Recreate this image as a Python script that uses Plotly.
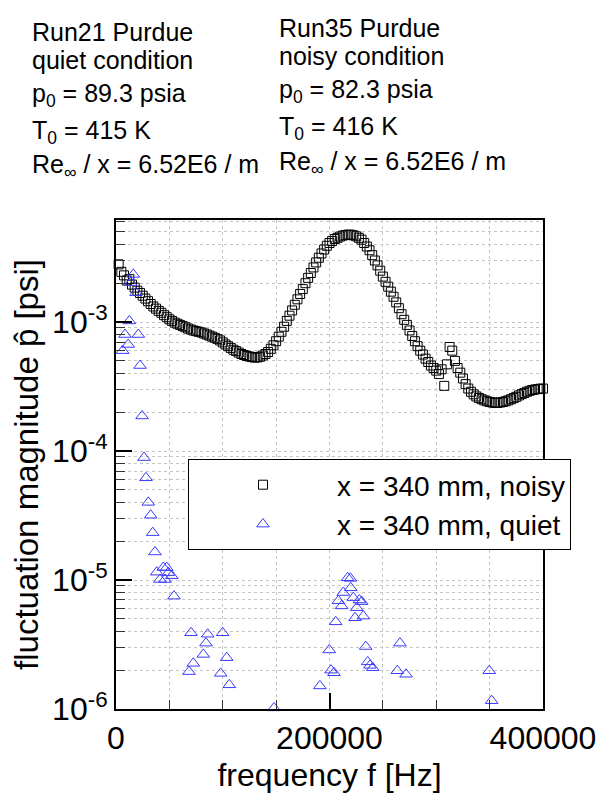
import plotly.graph_objects as go

# ---------------- data ----------------
# noisy run (Run35): uniform FFT bins of 2500 Hz
noisy_freq = [2500 * k for k in range(1, 161)]
noisy_amp = [
    2.8e-3, 2.45e-3, 2.3e-3, 2.1e-3, 2.15e-3, 1.95e-3, 1.85e-3, 1.75e-3, 1.68e-3, 1.6e-3,
    1.52e-3, 1.45e-3, 1.38e-3, 1.32e-3, 1.27e-3, 1.22e-3, 1.18e-3, 1.13e-3, 1.09e-3, 1.05e-3,
    1.02e-3, 9.9e-4, 9.7e-4, 9.5e-4, 9.3e-4, 9.1e-4, 8.9e-4, 8.75e-4, 8.6e-4, 8.5e-4,
    8.4e-4, 8.3e-4, 8.15e-4, 8.0e-4, 7.85e-4, 7.7e-4, 7.55e-4, 7.4e-4, 7.2e-4, 6.95e-4,
    6.7e-4, 6.5e-4, 6.3e-4, 6.1e-4, 5.95e-4, 5.8e-4, 5.65e-4, 5.55e-4, 5.45e-4, 5.4e-4,
    5.35e-4, 5.3e-4, 5.32e-4, 5.38e-4, 5.5e-4, 5.65e-4, 5.85e-4, 6.2e-4, 6.6e-4, 7.1e-4,
    7.7e-4, 8.4e-4, 9.2e-4, 1.02e-3, 1.12e-3, 1.23e-3, 1.36e-3, 1.5e-3, 1.65e-3, 1.8e-3,
    2.0e-3, 2.2e-3, 2.4e-3, 2.65e-3, 2.9e-3, 3.15e-3, 3.4e-3, 3.65e-3, 3.9e-3, 4.1e-3,
    4.25e-3, 4.4e-3, 4.5e-3, 4.6e-3, 4.68e-3, 4.73e-3, 4.76e-3, 4.75e-3, 4.7e-3, 4.62e-3,
    4.5e-3, 4.35e-3, 4.1e-3, 3.85e-3, 3.6e-3, 3.3e-3, 3.0e-3, 2.75e-3, 2.5e-3, 2.25e-3,
    2.05e-3, 1.88e-3, 1.72e-3, 1.57e-3, 1.42e-3, 1.28e-3, 1.15e-3, 1.04e-3, 9.5e-4, 8.6e-4,
    7.8e-4, 7.1e-4, 6.5e-4, 6.0e-4, 5.6e-4, 5.2e-4, 4.9e-4, 4.6e-4, 4.4e-4, 4.2e-4,
    3.95e-4, 4.3e-4, 3.2e-4, 4.7e-4, 6.4e-4, 6.0e-4, 5.0e-4, 4.4e-4, 4.05e-4, 3.65e-4,
    3.3e-4, 3.05e-4, 2.88e-4, 2.75e-4, 2.65e-4, 2.58e-4, 2.52e-4, 2.47e-4, 2.43e-4, 2.4e-4,
    2.38e-4, 2.36e-4, 2.36e-4, 2.38e-4, 2.4e-4, 2.43e-4, 2.47e-4, 2.52e-4, 2.57e-4, 2.63e-4,
    2.7e-4, 2.76e-4, 2.82e-4, 2.88e-4, 2.93e-4, 2.97e-4, 3.0e-4, 3.02e-4, 3.04e-4, 3.05e-4,
]

# quiet run (Run21): sparse peaks
quiet_freq = [
    6200, 8400, 11500, 12500, 13800, 16200, 18700, 20900, 22500, 24400,
    26200, 28100, 30300, 32500, 34400, 36500, 38100, 41200, 44300, 45900,
    47500, 49000, 52200, 54300, 68400, 70300, 72400, 81800, 84300, 85900,
    98100, 99900, 103700, 106100, 148000, 191000, 199800, 201400, 204200, 205800,
    208300, 211400, 212900, 217000, 219600, 219900, 222300, 223900, 225500, 228000,
    230200, 231700, 233900, 235800, 237900, 240500, 263500, 266000, 271700, 349700,
    351900,
]
quiet_amp = [
    6.0e-4, 8.0e-4, 6.7e-4, 1.02e-3, 2.02e-3, 2.34e-3, 1.69e-3, 8.0e-4, 4.6e-4, 1.87e-4,
    8.9e-5, 6.2e-5, 4.0e-5, 3.18e-5, 2.33e-5, 1.65e-5, 1.15e-5, 1.01e-5, 1.25e-5, 1.01e-5,
    1.25e-5, 1.14e-5, 1.08e-5, 7.5e-6, 1.95e-6, 3.9e-6, 2.26e-6, 2.65e-6, 3.24e-6, 3.8e-6,
    1.89e-6, 3.9e-6, 2.5e-6, 1.54e-6, 1.02e-6, 1.51e-6, 2.87e-6, 2.0e-6, 1.91e-6, 4.74e-6,
    6.9e-6, 6.3e-6, 8.0e-6, 1.04e-5, 1.03e-5, 8.7e-6, 7.3e-6, 5.1e-6, 6.1e-6, 7.0e-6,
    6.8e-6, 5.25e-6, 3.05e-6, 2.32e-6, 2.18e-6, 2.09e-6, 1.98e-6, 3.24e-6, 1.86e-6, 1.98e-6,
    1.16e-6,
]

series_names = ["x = 340 mm, noisy", "x = 340 mm, quiet"]

y_tick_vals = [1e-6, 1e-5, 1e-4, 1e-3]
y_tick_text = ["10<sup>-6</sup>", "10<sup>-5</sup>", "10<sup>-4</sup>", "10<sup>-3</sup>"]
x_tick_vals = [0, 200000, 400000]
x_tick_text = ["0", "200000", "400000"]
x_minor_vals = [50000, 100000, 150000, 250000, 300000, 350000]

left_block = [
    "Run21 Purdue",
    "quiet condition",
    "p<sub>0</sub> = 89.3 psia",
    "T<sub>0</sub> = 415 K",
    "Re<sub>∞</sub> / x = 6.52E6 / m",
]
right_block = [
    "Run35 Purdue",
    "noisy condition",
    "p<sub>0</sub> = 82.3 psia",
    "T<sub>0</sub> = 416 K",
    "Re<sub>∞</sub> / x = 6.52E6 / m",
]

# ---------------- figure ----------------
FONT = "Liberation Sans, Arial, sans-serif"
W, H = 602, 794
ML, MR, MT, MB = 116, 59, 220, 85
PW, PH = W - ML - MR, H - MT - MB

def px_x(px):
    return (px - ML) / PW

def px_y(py):
    return (H - MB - py) / PH

fig = go.Figure()
fig.add_trace(go.Scatter(
    x=noisy_freq, y=noisy_amp, mode="markers", name=series_names[0],
    marker=dict(symbol="square-open", size=9, color="black", line=dict(width=1, color="black")),
    cliponaxis=False,
))
fig.add_trace(go.Scatter(
    x=quiet_freq, y=quiet_amp, mode="markers", name=series_names[1],
    marker=dict(symbol="triangle-up-open", size=11, color="#3a3aff", line=dict(width=1, color="#3a3aff")),
    cliponaxis=False,
))

grid_col = "#c4c4c4"
minor_y = [m * 10.0 ** e for e in range(-6, -2) for m in range(2, 10)]

fig.update_xaxes(
    range=[0, 400000], tickmode="array", tickvals=x_tick_vals, ticktext=x_tick_text,
    ticks="inside", ticklen=16, tickwidth=2, tickcolor="black",
    showline=True, linewidth=2, linecolor="black", mirror=True,
    showgrid=True, gridcolor=grid_col, griddash="dot", gridwidth=1,
    zeroline=False,
    minor=dict(tickmode="array", tickvals=x_minor_vals, ticks="inside", ticklen=9,
               tickwidth=1, tickcolor="#333", showgrid=True, gridcolor=grid_col, griddash="dot"),
    tickfont=dict(family=FONT, size=32, color="black"),
    title=dict(text="frequency f [Hz]", font=dict(family=FONT, size=32, color="black"), standoff=8),
    automargin=False,
)
fig.update_yaxes(
    type="log", range=[-6, -2.209], tickmode="array", tickvals=y_tick_vals, ticktext=y_tick_text,
    ticks="inside", ticklen=16, tickwidth=2, tickcolor="black",
    showline=True, linewidth=2, linecolor="black", mirror=True,
    showgrid=True, gridcolor=grid_col, griddash="dot", gridwidth=1,
    zeroline=False,
    minor=dict(tickmode="array", tickvals=minor_y, ticks="inside", ticklen=9,
               tickwidth=1, tickcolor="#333", showgrid=True, gridcolor=grid_col, griddash="dot"),
    tickfont=dict(family=FONT, size=32, color="black"),
    title=dict(text="fluctuation magnitude p\u0302 [psi]", font=dict(family=FONT, size=33, color="black"), standoff=4),
    automargin=False,
)

annotations = []
left_baselines = [41, 69, 102, 139, 173]
right_baselines = [37, 65, 98, 135, 170]
ASC = 22.6
for txt, bl in zip(left_block, left_baselines):
    annotations.append(dict(text=txt, xref="paper", yref="paper", x=px_x(32), y=px_y(bl - ASC),
                            xanchor="left", yanchor="top", showarrow=False,
                            borderpad=0, borderwidth=0,
                            font=dict(family=FONT, size=25, color="black")))
for txt, bl in zip(right_block, right_baselines):
    annotations.append(dict(text=txt, xref="paper", yref="paper", x=px_x(279), y=px_y(bl - ASC),
                            xanchor="left", yanchor="top", showarrow=False,
                            borderpad=0, borderwidth=0,
                            font=dict(family=FONT, size=25, color="black")))

fig.update_layout(
    width=W, height=H,
    margin=dict(l=ML, r=MR, t=MT, b=MB, pad=0),
    paper_bgcolor="white", plot_bgcolor="white",
    showlegend=True,
    legend=dict(x=px_x(188), y=px_y(459), xanchor="left", yanchor="top",
                bgcolor="white", bordercolor="black", borderwidth=1,
                font=dict(family=FONT, size=28, color="black"), itemwidth=138),
    annotations=annotations,
)

fig.write_html("out.html")
